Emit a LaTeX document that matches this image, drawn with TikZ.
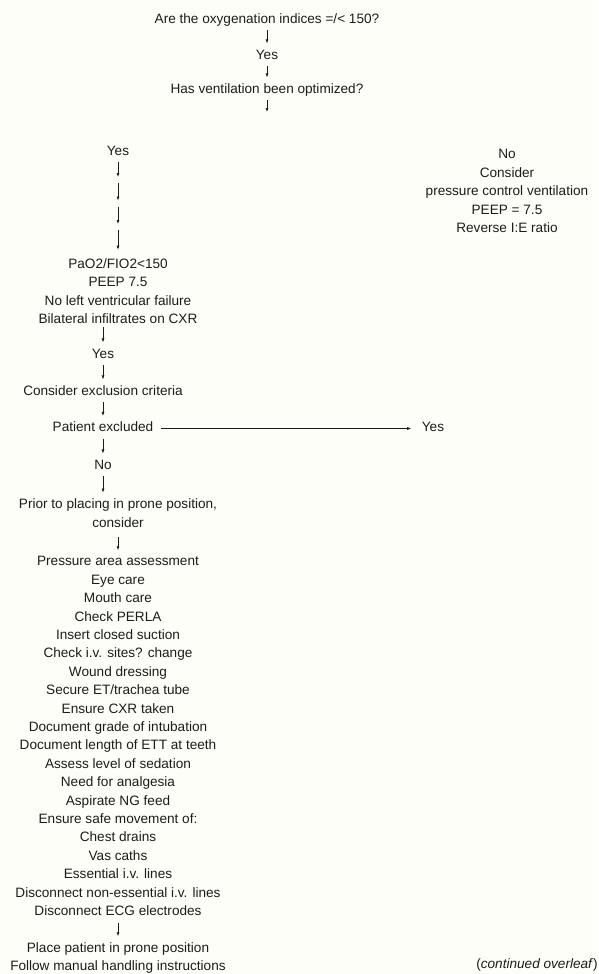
\documentclass[tikz,border=0pt]{standalone}
\usepackage{fontspec}
\setmainfont{Liberation Sans}
\usetikzlibrary{arrows.meta}
\definecolor{bg}{RGB}{254,254,248}
\definecolor{ink}{RGB}{28,28,28}
\begin{document}
\begin{tikzpicture}[x=1pt,y=-1pt,
  lbl/.style={inner sep=3.5pt, text=ink, font=\fontsize{13.6}{18.4}\selectfont},
  one/.style={lbl, text height=9.8pt, text depth=2.9pt},
  blk/.style={lbl, align=center},
  arr/.style={draw=ink, line width=0.6pt, -{Latex[length=4pt,width=3pt]}, shorten >=2.5pt}]
\fill[bg] (0,0) rectangle (598,974);
\useasboundingbox (0,0) rectangle (598,974);

\node[one] (q1) at (267,20) {Are the oxygenation indices =/< 150?};
\node[one] (y1) at (267,56) {Yes};
\node[one] (q2) at (267,90) {Has ventilation been optimized?};
\coordinate (e1) at (267,112);

\node[one] (y2) at (118,152) {Yes};
\coordinate (k1) at (118,180);
\coordinate (k2) at (118,203.5);
\coordinate (k3) at (118,227);
\node[blk] (crit) at (118,291) {PaO2/FIO2<150\\PEEP 7.5\\No left ventricular failure\\Bilateral infiltrates on CXR};

\node[blk] (nobox) at (507,191) {No\\Consider\\pressure control ventilation\\PEEP = 7.5\\Reverse I:E ratio};

\node[one] (y3) at (103,355) {Yes};
\node[one] (excr) at (103,392) {Consider exclusion criteria};
\node[one] (pex) at (103,428.5) {Patient excluded};
\node[one] (y4) at (433,428.5) {Yes};
\node[one] (n1) at (103,466) {No};

\node[blk] (prior) at (118,513) {Prior to placing in prone position,\\consider};
\node[blk] (list) at (118,736) {Pressure area assessment\\Eye care\\Mouth care\\Check PERLA\\Insert closed suction\\Check i.v. sites? change\\Wound dressing\\Secure ET/trachea tube\\Ensure CXR taken\\Document grade of intubation\\Document length of ETT at teeth\\Assess level of sedation\\Need for analgesia\\Aspirate NG feed\\Ensure safe movement of:\\Chest drains\\Vas caths\\Essential i.v. lines\\Disconnect non-essential i.v. lines\\Disconnect ECG electrodes};
\node[blk] (place) at (118,958) {Place patient in prone position\\Follow manual handling instructions};
\node[one] (cont) at (537,965) {(\textit{continued overleaf})};

\draw[arr] (q1) -- (y1);
\draw[arr] (y1) -- (q2);
\draw[arr, shorten >=0pt] (q2) -- (e1);

\draw[arr, shorten >=3pt] (y2) -- (k1);
\draw[arr, shorten <=3pt, shorten >=3pt] (k1) -- (k2);
\draw[arr, shorten <=3pt, shorten >=3pt] (k2) -- (k3);
\draw[arr, shorten <=3pt, shorten >=5pt] (k3) -- (crit);

\draw[arr] (crit.south -| y3) -- (y3);
\draw[arr] (y3) -- (excr);
\draw[arr] (excr) -- (pex);
\draw[arr, shorten <=4pt, shorten >=7pt] (pex) -- (y4);
\draw[arr] (pex) -- (n1);
\draw[arr] (n1) -- (prior.north -| n1);
\draw[arr, shorten <=6pt] (prior) -- (list);
\draw[arr, shorten <=4pt] (list) -- (place);
\end{tikzpicture}
\end{document}
